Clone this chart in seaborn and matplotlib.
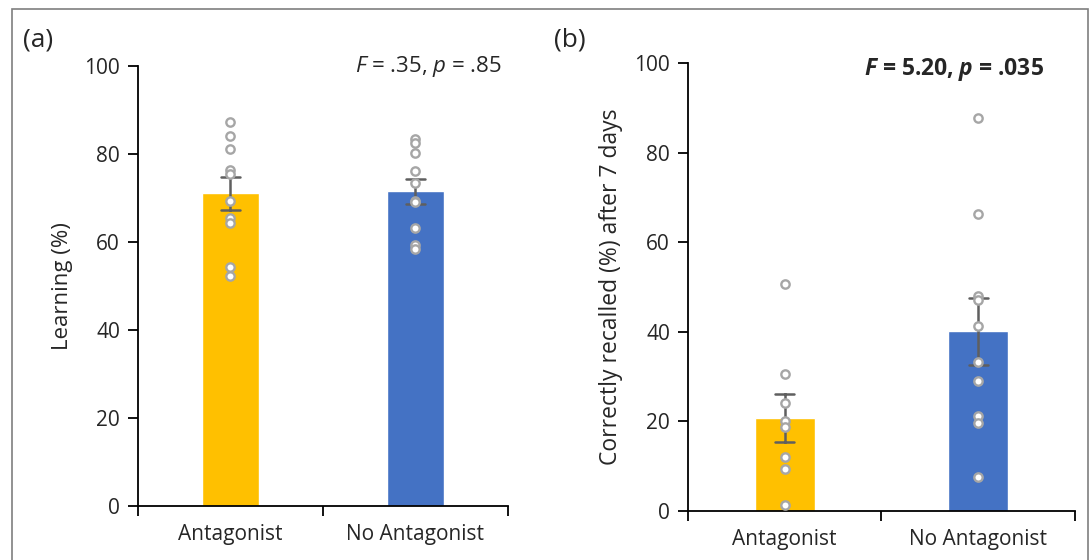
import matplotlib
matplotlib.use("Agg")
import matplotlib.pyplot as plt
from matplotlib.patches import Rectangle
import seaborn as sns
import pandas as pd

groups = ["Antagonist", "No Antagonist"]
colors = ["#FFC000", "#4472C4"]

# (a) learning (%)
learn_antag = [87.2, 84.2, 81.2, 76.3, 75.4, 69.4, 65.5, 64.4, 54.3, 52.3]
learn_no = [83.4, 82.4, 80.3, 76.2, 73.3, 69.2, 69.0, 63.2, 59.4, 58.3]

# (b) correctly recalled (%) after 7 days
recall_antag = [50.7, 30.6, 24.0, 20.0, 18.7, 12.0, 9.3, 1.3]
recall_no = [87.7, 66.2, 48.1, 47.2, 41.3, 33.3, 29.1, 21.3, 19.6, 7.6]

sns.set_style("white")
plt.rcParams["font.family"] = ["Open Sans", "DejaVu Sans"]
plt.rcParams["mathtext.fontset"] = "custom"
plt.rcParams["mathtext.rm"] = "Open Sans"
plt.rcParams["mathtext.it"] = "Open Sans:italic"
plt.rcParams["mathtext.bf"] = "Open Sans:bold"
plt.rcParams["mathtext.bfit"] = "Open Sans:italic:bold"


def long_df(a, b):
    return pd.DataFrame({
        "group": [groups[0]] * len(a) + [groups[1]] * len(b),
        "value": a + b,
    })


def draw_panel(ax, df, ylabel, ylabel_size):
    sns.barplot(data=df, x="group", y="value", hue="group", order=groups,
                hue_order=groups, palette=colors, saturation=1, errorbar="se",
                width=0.31, capsize=0.1,
                err_kws={"color": "#5f5f5f", "linewidth": 1.8},
                legend=False, ax=ax, zorder=2)
    sns.stripplot(data=df, x="group", y="value", order=groups, jitter=False,
                  color="white", edgecolor="#a6a6a6", linewidth=1.7, size=6,
                  ax=ax, zorder=4)
    ax.set_xlim(-0.5, 1.5)
    ax.set_ylim(0, 100)
    ax.set_yticks([0, 20, 40, 60, 80, 100])
    ax.set_xlabel("")
    ax.set_ylabel(ylabel, fontsize=ylabel_size, labelpad=8)
    ax.set_xticks([0, 1])
    ax.set_xticklabels(groups)
    ax.set_xticks([-0.5, 0.5, 1.5], minor=True)
    ax.tick_params(axis="x", which="major", length=0, pad=13, labelsize=15)
    ax.tick_params(axis="x", which="minor", length=7, width=1.3, color="black",
                   direction="out", bottom=True)
    ax.tick_params(axis="y", length=7, width=1.3, color="black", direction="out",
                   left=True, labelsize=15, pad=6)
    for side in ["top", "right"]:
        ax.spines[side].set_visible(False)
    for side in ["left", "bottom"]:
        ax.spines[side].set_color("black")
        ax.spines[side].set_linewidth(1.3)


fig = plt.figure(figsize=(10.91, 5.6), dpi=100)
ax1 = fig.add_axes([0.1265, 0.097, 0.339, 0.785])
ax2 = fig.add_axes([0.6306, 0.0875, 0.3547, 0.800])

draw_panel(ax1, long_df(learn_antag, learn_no), "Learning (%)", 16)
draw_panel(ax2, long_df(recall_antag, recall_no),
           "Correctly recalled (%) after 7 days", 16.5)

ax1.text(0.985, 1.0, r"$\mathit{F}$ = .35, $\mathit{p}$ = .85", transform=ax1.transAxes,
         ha="right", va="center", fontsize=16)
ax2.text(0.92, 0.985, r"$\mathbfit{F}$ = 5.20, $\mathbfit{p}$ = .035",
         transform=ax2.transAxes, ha="right", va="center", fontsize=16.5,
         fontweight="bold")

fig.text(23 / 1091, 1 - 40 / 560, "(a)", fontsize=19, va="center", ha="left")
fig.text(554 / 1091, 1 - 40 / 560, "(b)", fontsize=19, va="center", ha="left")

fig.patches.append(Rectangle((12 / 1091, -0.05), (1088 - 12) / 1091, 1.05 - 9 / 560,
                             transform=fig.transFigure, fill=False,
                             edgecolor="#7f7f7f", linewidth=1.2))

fig.savefig("out.png", dpi=100)
